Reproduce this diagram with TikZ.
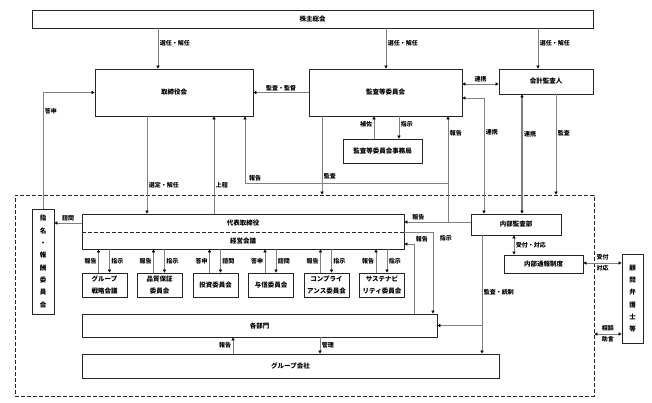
\documentclass[tikz,border=0pt]{standalone}
\usepackage{fontspec}
\newfontfamily\jpfont{Noto Sans CJK JP}
\usetikzlibrary{arrows.meta, positioning}

\begin{document}
\begin{tikzpicture}[x=1pt, y=-1pt,
    box/.style={rectangle, draw=black!85, fill=white, line width=0.9pt, inner sep=0pt,
                font=\jpfont\bfseries\fontsize{6.5}{12.5}\selectfont, align=center},
    vbox/.style={box, font=\jpfont\bfseries\fontsize{6.5}{12.3}\selectfont},
    frm/.style={draw=black!85, dash pattern=on 4pt off 2pt, line width=0.8pt, inner sep=0pt},
    txt/.style={inner sep=1pt, font=\jpfont\bfseries\fontsize{6.5}{8}\selectfont},
    lbl/.style={inner sep=1.5pt, font=\jpfont\bfseries\fontsize{6}{7}\selectfont},
    arrow/.style={-{Triangle[length=3pt, width=3.2pt, color=black]}, draw=black!50, line width=0.7pt},
    twoway/.style={{Triangle[length=3pt, width=3.2pt, color=black]}-{Triangle[length=3pt, width=3.2pt, color=black]},
                   draw=black!50, line width=0.7pt}]

\useasboundingbox (0,0) rectangle (652,403);

\node[frm, minimum width=579pt, minimum height=201pt] (grpfrm) at (304.5,295.5) {};

\node[box, minimum width=561pt, minimum height=18pt] (gm) at (312.5,19) {株主総会};
\node[box, minimum width=158pt, minimum height=47pt] (bod) at (174,92.5) {取締役会};
\node[box, minimum width=153pt, minimum height=47pt] (ac) at (385.5,92.5) {監査等委員会};
\node[box, minimum width=94pt, minimum height=25pt] (auditor) at (546,81.5) {会計監査人};
\node[box, minimum width=79pt, minimum height=24pt] (acoffice) at (382.5,151) {監査等委員会事務局};
\node[vbox, minimum width=22pt, minimum height=105pt] (nomcom) at (43,261.5) {指\\名\\・\\報\\酬\\委\\員\\会};

\node[box, minimum width=322pt, minimum height=35pt] (exec) at (243,231.5) {};
\node[txt] (ceo) at (243,223) {代表取締役};
\node[txt] (mgmt) at (243,241) {経営会議};
\draw[draw=black!85, line width=0.8pt, dash pattern=on 4pt off 2pt] (exec.west |- 0,232) -- (exec.east |- 0,232);

\node[box, minimum width=45pt, minimum height=24pt] (strat) at (104.5,285) {グループ\\戦略会議};
\node[box, minimum width=45pt, minimum height=24pt] (qa) at (159.5,285) {品質保証\\委員会};
\node[box, minimum width=45pt, minimum height=24pt] (invest) at (215.5,285) {投資委員会};
\node[box, minimum width=45pt, minimum height=24pt] (credit) at (271,285) {与信委員会};
\node[box, minimum width=45pt, minimum height=24pt] (comply) at (326.5,285) {コンプライ\\アンス委員会};
\node[box, minimum width=45pt, minimum height=24pt] (sustain) at (382,285) {サステナビ\\リティ委員会};

\node[box, minimum width=355pt, minimum height=23pt] (dept) at (259.5,325.5) {各部門};
\node[box, minimum width=417pt, minimum height=24pt] (grpco) at (290.5,366) {グループ会社};
\node[box, minimum width=90pt, minimum height=21pt] (ia) at (516,224.5) {内部監査部};
\node[box, minimum width=79pt, minimum height=18pt] (whistle) at (543.5,264) {内部通報制度};
\node[vbox, minimum width=21pt, minimum height=89pt] (lawyer) at (632.5,298.5) {顧\\問\\弁\\護\\士\\等};

\coordinate (rep) at (448,222);
\coordinate (rep2) at (448,183);

\draw[arrow] (158,0 |- gm.south) -- node[lbl, right, pos=0.37] (l1) {選任・解任} (158,0 |- bod.north);
\draw[arrow] (386,0 |- gm.south) -- node[lbl, right, pos=0.37] (l2) {選任・解任} (386,0 |- ac.north);
\draw[arrow] (538,0 |- gm.south) -- node[lbl, right, pos=0.37] (l3) {選任・解任} (538,0 |- auditor.north);
\draw[arrow] (ac.west) -- node[lbl, above] (l4) {監査・監督} (bod.east);
\draw[twoway] (ac.east |- 0,84) -- node[lbl, above] (l5) {連携} (auditor.west |- 0,84);
\draw[twoway] (ac.east |- 0,98) -| node[lbl, right, pos=0.65] (l6) {連携} (484,0 |- ia.north);
\draw[twoway, line width=1.1pt] (522,0 |- auditor.south) -- node[lbl, right, pos=0.33] (l7) {連携} (522,0 |- ia.north);
\draw[arrow] (556,0 |- auditor.south) -- node[lbl, right, pos=0.39] (l8) {監査} (556,0 |- grpfrm.north);
\draw[arrow] (374,0 |- acoffice.north) -- node[lbl, left, pos=0.65] (l9) {補佐} (374,0 |- ac.south);
\draw[arrow] (399,0 |- ac.south) -- node[lbl, right, pos=0.35] (l10) {指示} (399,0 |- acoffice.north);
\draw[arrow] (322,0 |- ac.south) -- node[lbl, right, pos=0.77] (l11) {監査} (322,0 |- grpfrm.north);

\draw[arrow] (ia.west |- rep) -- node[lbl, above, pos=0.79] (l12) {報告} (exec.east |- rep);
\draw[arrow] (rep) -- node[lbl, right, pos=0.84] (l13) {報告} (rep |- ac.south);
\draw[arrow] (rep2) -| node[lbl, above, pos=0.475] (l14) {報告} (245,0 |- bod.south);

\draw[arrow] (nomcom.north) |- node[lbl, right, pos=0.42] (l15) {答申} (bod.west);
\draw[arrow] (147,0 |- bod.south) -- node[lbl, right, pos=0.71] (l16) {選定・解任} (147,0 |- exec.north);
\draw[arrow] (214,0 |- exec.north) -- node[lbl, right, pos=0.29] (l17) {上程} (214,0 |- bod.south);
\draw[arrow] (exec.west |- ceo) -- node[lbl, above] (l18) {諮問} (nomcom.east |- ceo);

\draw[arrow] ([xshift=-6pt]strat.north) -- node[lbl, left] (l19) {報告} ([xshift=-6pt]strat.north |- exec.south);
\draw[arrow] ([xshift=5pt]strat.north |- exec.south) -- node[lbl, right] (l20) {指示} ([xshift=5pt]strat.north);
\draw[arrow] ([xshift=-6pt]qa.north) -- node[lbl, left] (l21) {報告} ([xshift=-6pt]qa.north |- exec.south);
\draw[arrow] ([xshift=5pt]qa.north |- exec.south) -- node[lbl, right] (l22) {指示} ([xshift=5pt]qa.north);
\draw[arrow] ([xshift=-6pt]invest.north) -- node[lbl, left] (l23) {答申} ([xshift=-6pt]invest.north |- exec.south);
\draw[arrow] ([xshift=5pt]invest.north |- exec.south) -- node[lbl, right] (l24) {諮問} ([xshift=5pt]invest.north);
\draw[arrow] ([xshift=-6pt]credit.north) -- node[lbl, left] (l25) {答申} ([xshift=-6pt]credit.north |- exec.south);
\draw[arrow] ([xshift=5pt]credit.north |- exec.south) -- node[lbl, right] (l26) {諮問} ([xshift=5pt]credit.north);
\draw[arrow] ([xshift=-6pt]comply.north) -- node[lbl, left] (l27) {報告} ([xshift=-6pt]comply.north |- exec.south);
\draw[arrow] ([xshift=5pt]comply.north |- exec.south) -- node[lbl, right] (l28) {指示} ([xshift=5pt]comply.north);
\draw[arrow] ([xshift=-6pt]sustain.north) -- node[lbl, left] (l29) {報告} ([xshift=-6pt]sustain.north |- exec.south);
\draw[arrow] ([xshift=5pt]sustain.north |- exec.south) -- node[lbl, right] (l30) {指示} ([xshift=5pt]sustain.north);

\draw[arrow] (414,0 |- dept.north) |- node[lbl, above right, pos=0.5] (l31) {報告} (exec.east |- 0,244);
\draw[arrow] (exec.east |- 0,232) -| node[lbl, right, pos=0.54, xshift=5pt] (l32) {指示} (433,0 |- dept.north);

\draw[arrow] (482,0 |- ia.south) -- node[lbl, right, pos=0.48] (l33) {監査・統制} (482,0 |- grpco.north);
\draw[arrow] (482,0 |- dept.east) -- (dept.east);
\draw[twoway] (514,0 |- ia.south) -- node[lbl, right] (l34) {受付・対応} (514,0 |- whistle.north);
\draw[twoway] (whistle.east |- 0,263) -- node[lbl, above, inner sep=2.5pt] (l35) {受付}
    node[lbl, below, inner sep=2.5pt] (l36) {対応} (lawyer.west |- 0,263);
\draw[twoway] (grpfrm.east |- 0,334) -- node[lbl, above, inner sep=2.5pt] (l37) {相談}
    node[lbl, below, inner sep=2.5pt] (l38) {助言} (lawyer.west |- 0,334);

\draw[arrow] (233,0 |- grpco.north) -- node[lbl, left] (l39) {報告} (233,0 |- dept.south);
\draw[arrow] (320,0 |- dept.south) -- node[lbl, right] (l40) {管理} (320,0 |- grpco.north);
\end{tikzpicture}
\end{document}
